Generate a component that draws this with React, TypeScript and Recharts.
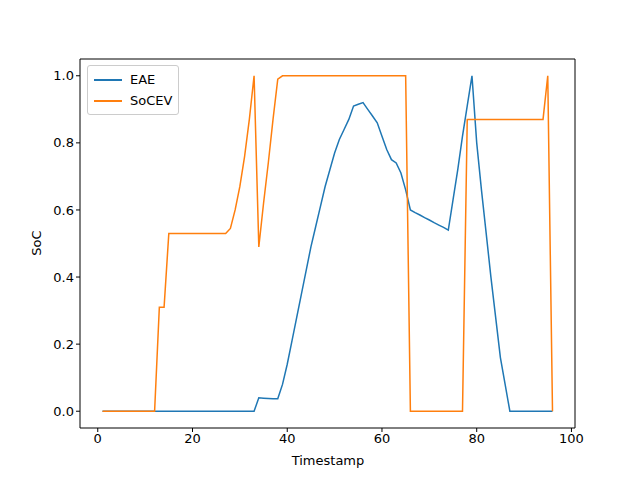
import React from 'react';
import { LineChart, Line, XAxis, YAxis } from 'recharts';

const timestamps = Array.from({ length: 96 }, (_, i) => i + 1);
const eae: number[] = [
  0,0,0,0,0,0,0,0,0,0, // 1-10
  0,0,0,0,0,0,0,0,0,0, // 11-20
  0,0,0,0,0,0,0,0,0,0, // 21-30
  0,0,0,0.04,0.039,0.038,0.037,0.037,0.08,0.14, // 31-40
  0.21,0.28,0.35,0.42,0.49,0.55,0.61,0.67,0.72,0.77, // 41-50
  0.81,0.84,0.87,0.91,0.915,0.92,0.90,0.88,0.86,0.82, // 51-60
  0.78,0.75,0.74,0.71,0.66,0.60,0.592,0.585,0.577,0.57, // 61-70
  0.562,0.555,0.548,0.54,0.63,0.72,0.82,0.91,1.0,0.80, // 71-80
  0.66,0.53,0.40,0.28,0.16,0.08,0.0,0,0,0, // 81-90
  0,0,0,0,0,0, // 91-96
];
const socev: number[] = [
  0,0,0,0,0,0,0,0,0,0, // 1-10
  0,0,0.31,0.31,0.53,0.53,0.53,0.53,0.53,0.53, // 11-20
  0.53,0.53,0.53,0.53,0.53,0.53,0.53,0.545,0.6,0.67, // 21-30
  0.76,0.87,1.0,0.49,0.62,0.74,0.87,0.99,1.0,1.0, // 31-40
  1,1,1,1,1,1,1,1,1,1, // 41-50
  1,1,1,1,1,1,1,1,1,1, // 51-60
  1,1,1,1,1,0,0,0,0,0, // 61-70
  0,0,0,0,0,0,0,0.87,0.87,0.87, // 71-80
  0.87,0.87,0.87,0.87,0.87,0.87,0.87,0.87,0.87,0.87, // 81-90
  0.87,0.87,0.87,0.87,1.0,0, // 91-96
];
const xTicks = [0, 20, 40, 60, 80, 100];
const yTicks = [0, 0.2, 0.4, 0.6, 0.8, 1.0];
const seriesNames = ['EAE', 'SoCEV'];
const colors = ['#1f77b4', '#ff7f0e'];

const data = timestamps.map((t, i) => ({ t, EAE: eae[i], SoCEV: socev[i] }));
const font = { fontFamily: 'DejaVu Sans', fontSize: 13, fill: '#000' };

export default function App() {
  return (
    <div style={{ margin: -8, width: 640, height: 480, background: '#fff', fontFamily: 'DejaVu Sans', position: 'relative', fontSize: 13 }}>
      <LineChart width={640} height={480} data={data} margin={{ top: 58, right: 64, bottom: 0, left: 0 }}>
        <XAxis dataKey="t" type="number" domain={[-3.75, 100.75]} ticks={xTicks} allowDataOverflow
          tick={font} tickLine={{ stroke: '#000' }} axisLine={{ stroke: '#000' }} tickSize={4} height={52} />
        <XAxis xAxisId="top" orientation="top" dataKey="t" type="number" domain={[-3.75, 100.75]} tick={false} tickLine={false} axisLine={{ stroke: '#000' }} height={1} />
        <YAxis type="number" domain={[-0.05, 1.05]} ticks={yTicks} allowDataOverflow width={80}
          tickFormatter={(v: number) => v.toFixed(1)}
          tick={font} tickLine={{ stroke: '#000' }} axisLine={{ stroke: '#000' }} tickSize={4} />
        <YAxis yAxisId="right" orientation="right" type="number" domain={[-0.05, 1.05]} tick={false} tickLine={false} axisLine={{ stroke: '#000' }} width={1} />
        <Line dataKey="EAE" stroke={colors[0]} strokeWidth={1.5} dot={false} isAnimationActive={false} />
        <Line dataKey="SoCEV" stroke={colors[1]} strokeWidth={1.5} dot={false} isAnimationActive={false} />
      </LineChart>
      <div style={{ position: 'absolute', left: 87, top: 65, border: '1px solid #ccc', borderRadius: 3, padding: '3px 6px', background: '#fff', lineHeight: '21px' }}>
        {seriesNames.map((n, i) => (
          <div key={n} style={{ display: 'flex', alignItems: 'center' }}>
            <span style={{ display: 'inline-block', width: 28, height: 2, background: colors[i], marginRight: 8 }} />
            <span>{n}</span>
          </div>
        ))}
      </div>
      <div style={{ position: 'absolute', left: 0, width: 656, top: 453, textAlign: 'center' }}>Timestamp</div>
      <div style={{ position: 'absolute', left: 36, top: 243, transform: 'translate(-50%,-50%) rotate(-90deg)' }}>SoC</div>
    </div>
  );
}
